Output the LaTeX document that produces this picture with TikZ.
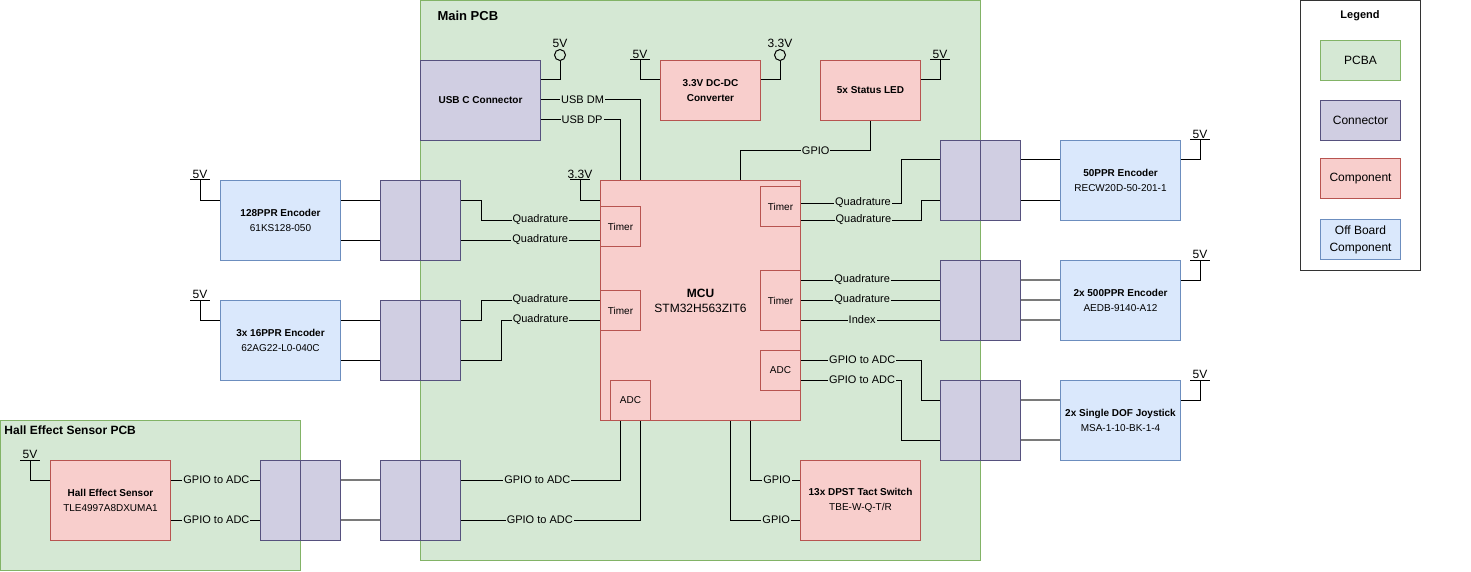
\documentclass[tikz,border=0pt]{standalone}
\usepackage{fontspec}
\setmainfont{Liberation Sans}
\usetikzlibrary{calc}
\definecolor{pcbf}{HTML}{D5E8D4}
\definecolor{pcbd}{HTML}{82B366}
\definecolor{conf}{HTML}{D0CEE2}
\definecolor{cond}{HTML}{56517E}
\definecolor{cmpf}{HTML}{F8CECC}
\definecolor{cmpd}{HTML}{B85450}
\definecolor{offf}{HTML}{DAE8FC}
\definecolor{offd}{HTML}{6C8EBF}
\definecolor{wiregray}{HTML}{7A7A7A}
\definecolor{legd}{HTML}{333333}
\newcommand\fsz[2]{\fontsize{#1}{#2}\selectfont}
\newcommand\pbar[3]{%
  \coordinate (#1) at #2;
  \draw ($(#1)+(-10,0)$) -- ($(#1)+(10,0)$);
  \node[vlbl] (#1t) at (#1) {#3};}
\begin{document}
\begin{tikzpicture}[x=1pt,y=-1pt,line width=1pt,
  pcb/.style={draw=pcbd,fill=pcbf,anchor=north west,inner sep=0pt},
  box/.style={anchor=north west,inner sep=0pt,align=center,font=\fsz{10}{15},text=black},
  conn/.style={box,draw=cond,fill=conf,minimum width=40,minimum height=80},
  comp/.style={box,draw=cmpd,fill=cmpf},
  offb/.style={box,draw=offd,fill=offf,minimum width=120,minimum height=80},
  sub/.style={comp,minimum width=40,minimum height=40},
  lbl/.style={fill=pcbf,inner sep=1pt,font=\fsz{11}{13},text=black},
  vlbl/.style={font=\fsz{12}{14},inner sep=1pt,anchor=south},
  circ/.style={circle,draw,fill=pcbf,minimum size=11,inner sep=0pt},
  gwire/.style={draw=wiregray,line width=1.5pt},
  leg/.style={anchor=north west,inner sep=0pt,align=center,font=\fsz{12}{17},minimum width=80,minimum height=40},
]
\useasboundingbox (0,0) rectangle (1471,572);

% boards
\node[pcb,minimum width=560,minimum height=560] (mainpcb) at (420,0) {};
\node[anchor=west,inner sep=0pt,font=\bfseries\fsz{13}{15}] (mainlbl) at (437,16) {Main PCB};
\node[pcb,minimum width=300,minimum height=150] (hallpcb) at (0,420) {};
\node[anchor=west,inner sep=0pt,font=\bfseries\fsz{12}{14}] (halllbl) at (4,430) {Hall Effect Sensor PCB};

% legend
\node[draw=legd,fill=white,anchor=north west,minimum width=120,minimum height=270,inner sep=0pt] (legend) at (1300,0) {};
\node[font=\bfseries\fsz{11}{13},inner sep=0pt] (legt) at (1360,16) {Legend};
\node[leg,draw=pcbd,fill=pcbf] (lg1) at (1320,40) {PCBA};
\node[leg,draw=cond,fill=conf] (lg2) at (1320,100) {Connector};
\node[leg,draw=cmpd,fill=cmpf] (lg3) at (1320,158) {Component};
\node[leg,draw=offd,fill=offf] (lg4) at (1320,219) {Off Board\\Component};

% main components
\node[box,draw=cond,fill=conf,minimum width=120,minimum height=80] (usb) at (420,60) {\bfseries USB C Connector};
\node[comp,minimum width=100,minimum height=60] (dcdc) at (660,60) {\bfseries 3.3V DC-DC\\\bfseries Converter};
\node[comp,minimum width=100,minimum height=60] (led) at (820,60) {\bfseries 5x Status LED};
\node[comp,minimum width=200,minimum height=240,font=\fsz{12}{15}] (mcu) at (600,180) {\bfseries MCU\\STM32H563ZIT6};
\node[sub] (tmL1) at (600,206) {Timer};
\node[sub] (tmL2) at (600,290) {Timer};
\node[sub] (tmR1) at (760,186) {Timer};
\node[sub,minimum height=60] (tmR2) at (760,270) {Timer};
\node[sub] (adcR) at (760,350) {ADC};
\node[sub] (adcB) at (610,380) {ADC};
\node[comp,minimum width=120,minimum height=80] (tact) at (800,460) {\bfseries 13x DPST Tact Switch\\TBE-W-Q-T/R};
\node[comp,minimum width=120,minimum height=80] (hall) at (50,460) {\bfseries Hall Effect Sensor\\TLE4997A8DXUMA1};

% off board
\node[offb] (enc128) at (220,180) {\bfseries 128PPR Encoder\\61KS128-050};
\node[offb] (enc16) at (220,300) {\bfseries 3x 16PPR Encoder\\62AG22-L0-040C};
\node[offb] (enc50) at (1060,140) {\bfseries 50PPR Encoder\\RECW20D-50-201-1};
\node[offb] (enc500) at (1060,260) {\bfseries 2x 500PPR Encoder\\AEDB-9140-A12};
\node[offb] (joy) at (1060,380) {\bfseries 2x Single DOF Joystick\\MSA-1-10-BK-1-4};

% connectors
\node[conn] (c128L) at (380,180) {}; \node[conn] (c128R) at (420,180) {};
\node[conn] (c16L) at (380,300) {};  \node[conn] (c16R) at (420,300) {};
\node[conn] (c50L) at (940,140) {};  \node[conn] (c50R) at (980,140) {};
\node[conn] (c500L) at (940,260) {}; \node[conn] (c500R) at (980,260) {};
\node[conn] (cjL) at (940,380) {};   \node[conn] (cjR) at (980,380) {};
\node[conn] (chL) at (260,460) {};   \node[conn] (chR) at (300,460) {};
\node[conn] (cmL) at (380,460) {};   \node[conn] (cmR) at (420,460) {};

% power
\node[circ] (cusb) at (560,55) {};
\node[vlbl] (cusbt) at (cusb.north) {5V};
\draw (cusb.south) |- ([yshift=-20pt]usb.north east);
\node[circ] (c33) at (780,55) {};
\node[vlbl] (c33t) at (c33.north) {3.3V};
\draw (c33.south) |- ([yshift=-20pt]dcdc.north east);
\pbar{pdc}{(640,60)}{5V}
\draw (pdc) |- ([yshift=-20pt]dcdc.north west);
\pbar{pled}{(940,60)}{5V}
\draw (pled) |- ([yshift=-20pt]led.north east);
\pbar{pmcu}{(580,180)}{3.3V}
\draw (pmcu) |- ([yshift=-20pt]mcu.north west);
\pbar{p128}{(200,180)}{5V}
\draw (p128) |- ([yshift=-20pt]enc128.north west);
\pbar{p16}{(200,300)}{5V}
\draw (p16) |- ([yshift=-20pt]enc16.north west);
\pbar{p50}{(1200,140)}{5V}
\draw (p50) |- ([yshift=-20pt]enc50.north east);
\pbar{p500}{(1200,260)}{5V}
\draw (p500) |- ([yshift=-20pt]enc500.north east);
\pbar{pj}{(1200,380)}{5V}
\draw (pj) |- ([yshift=-20pt]joy.north east);
\pbar{ph}{(30,460)}{5V}
\draw (ph) |- ([yshift=-20pt]hall.north west);

% USB
\draw ([yshift=-40pt]usb.north east) -| node[lbl,pos=0.21]{USB DM} ([xshift=40pt]mcu.north west);
\draw ([yshift=-60pt]usb.north east) -| node[lbl,pos=0.26]{USB DP} ([xshift=20pt]mcu.north west);
\draw (led.south) -- ++(0,30) -| node[lbl,pos=0.21]{GPIO} ([xshift=140pt]mcu.north west);

% left encoders
\draw ([yshift=-20pt]enc128.north east) -- ([yshift=-20pt]c128L.north west);
\draw ([yshift=-60pt]enc128.north east) -- ([yshift=-60pt]c128L.north west);
\draw ([yshift=-20pt]c128R.north east) -- ++(20,0) |- node[lbl,pos=0.75]{Quadrature} ([yshift=-14pt]tmL1.north west);
\draw ([yshift=-60pt]c128R.north east) -- node[lbl,pos=0.57]{Quadrature} ([yshift=-34pt]tmL1.north west);
\draw ([yshift=-20pt]enc16.north east) -- ([yshift=-20pt]c16L.north west);
\draw ([yshift=-60pt]enc16.north east) -- ([yshift=-60pt]c16L.north west);
\draw ([yshift=-20pt]c16R.north east) -- ++(20,0) |- node[lbl,pos=0.75]{Quadrature} ([yshift=-10pt]tmL2.north west);
\draw ([yshift=-60pt]c16R.north east) -- ++(40,0) |- node[lbl,pos=0.7]{Quadrature} ([yshift=-30pt]tmL2.north west);

% right side
\draw ([yshift=-17pt]tmR1.north east) -- node[lbl,pos=0.62]{Quadrature} ++(100,0) |- ([yshift=-20pt]c50L.north west);
\draw ([yshift=-34pt]tmR1.north east) -- node[lbl,pos=0.52]{Quadrature} ++(120,0) |- ([yshift=-60pt]c50L.north west);
\draw ([yshift=-20pt]c50R.north east) -- ([yshift=-20pt]enc50.north west);
\draw ([yshift=-60pt]c50R.north east) -- ([yshift=-60pt]enc50.north west);

\draw ([yshift=-10pt]tmR2.north east) -- node[lbl,pos=0.44]{Quadrature} ([yshift=-20pt]c500L.north west);
\draw ([yshift=-30pt]tmR2.north east) -- node[lbl,pos=0.44]{Quadrature} ([yshift=-40pt]c500L.north west);
\draw ([yshift=-50pt]tmR2.north east) -- node[lbl,pos=0.44]{Index} ([yshift=-60pt]c500L.north west);
\draw[gwire] ([yshift=-20pt]c500R.north east) -- ([yshift=-20pt]enc500.north west);
\draw[gwire] ([yshift=-40pt]c500R.north east) -- ([yshift=-40pt]enc500.north west);
\draw[gwire] ([yshift=-60pt]c500R.north east) -- ([yshift=-60pt]enc500.north west);

\draw ([yshift=-10pt]adcR.north east) -- node[lbl,pos=0.51]{GPIO to ADC} ++(120,0) |- ([yshift=-20pt]cjL.north west);
\draw ([yshift=-30pt]adcR.north east) -- node[lbl,pos=0.61]{GPIO to ADC} ++(100,0) |- ([yshift=-60pt]cjL.north west);
\draw[gwire] ([yshift=-20pt]cjR.north east) -- ([yshift=-20pt]joy.north west);
\draw[gwire] ([yshift=-60pt]cjR.north east) -- ([yshift=-60pt]joy.north west);

% bottom
\draw ([xshift=10pt]adcB.south west) |- node[lbl,pos=0.76]{GPIO to ADC} ([yshift=-20pt]cmR.north east);
\draw ([xshift=30pt]adcB.south west) |- node[lbl,pos=0.78]{GPIO to ADC} ([yshift=-60pt]cmR.north east);
\draw ([xshift=150pt]mcu.south west) |- node[lbl,pos=0.77]{GPIO} ([yshift=-20pt]tact.north west);
\draw ([xshift=130pt]mcu.south west) |- node[lbl,pos=0.83]{GPIO} ([yshift=-60pt]tact.north west);
\draw[gwire] ([yshift=-20pt]chR.north east) -- ([yshift=-20pt]cmL.north west);
\draw[gwire] ([yshift=-60pt]chR.north east) -- ([yshift=-60pt]cmL.north west);
\draw ([yshift=-20pt]hall.north east) -- node[lbl,pos=0.51]{GPIO to ADC} ([yshift=-20pt]chL.north west);
\draw ([yshift=-60pt]hall.north east) -- node[lbl,pos=0.51]{GPIO to ADC} ([yshift=-60pt]chL.north west);
\end{tikzpicture}
\end{document}
